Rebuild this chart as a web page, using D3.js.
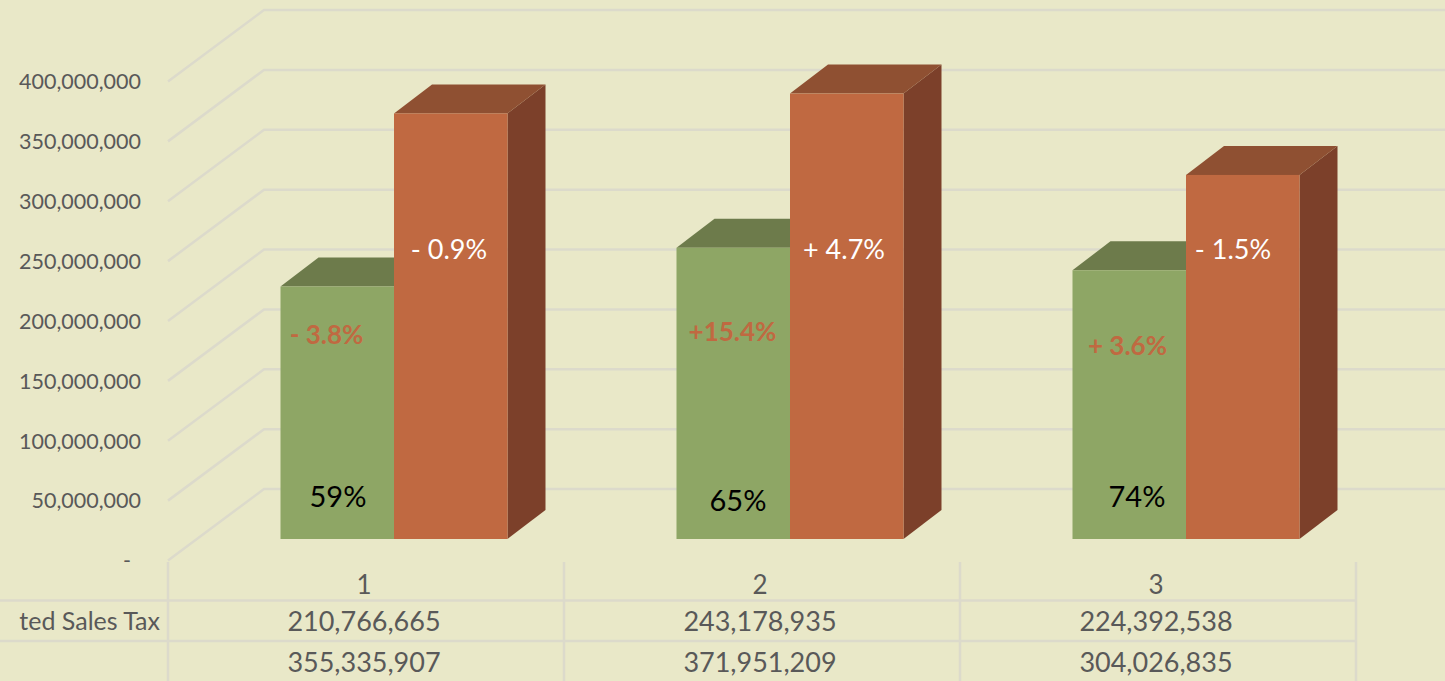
<!DOCTYPE html>
<html><head><meta charset="utf-8">
<script src="https://cdnjs.cloudflare.com/ajax/libs/d3/7.8.5/d3.min.js"></script>
<style>html,body{margin:0;padding:0;background:#e9e8c8;overflow:hidden}svg{display:block}text{font-family:Lato,"Open Sans",sans-serif}</style>
</head><body><div id="c"></div>
<script>
const categories = ["1","2","3"];
const salesTax = [210766665,243178935,224392538];
const otherSeries = [355335907,371951209,304026835];
const tableRowLabels = ["ted Sales Tax",""];
const shareLabels = ["59%","65%","74%"];
const salesChange = ["- 3.8%","+15.4%","+ 3.6%"];
const otherChange = ["- 0.9%","+ 4.7%","- 1.5%"];
const yTicks = [0,50e6,100e6,150e6,200e6,250e6,300e6,350e6,400e6];

const W=1445,H=681;
const svg=d3.select("#c").append("svg").attr("width",W).attr("height",H);
svg.append("rect").attr("width",W).attr("height",H).attr("fill","#e9e8c8");

const left=168,right=1356,y0=560.5,yTop=81.5;
const wallDx=96,wallDy=71.5;
const y=d3.scaleLinear().domain([0,400e6]).range([y0,yTop]);
const x=d3.scaleBand().domain(categories).range([left,right]);
const grid="#dcdacb", tc="#595959";

// walls / gridlines
const g=svg.append("g").attr("fill","none").attr("stroke",grid).attr("stroke-width",2.5);
g.selectAll("path").data(yTicks).join("path")
 .attr("d",t=>d3.line()([[left,y(t)],[left+wallDx,y(t)-wallDy],[W,y(t)-wallDy]]));

// y axis
const axis=d3.axisLeft(y).tickValues(yTicks).tickSize(0).tickPadding(0)
  .tickFormat(t=>t===0?"-":d3.format(",")(t));
const ax=svg.append("g").attr("transform",`translate(141,0)`).call(axis);
ax.select(".domain").remove();
ax.selectAll("text").attr("font-size",21.5).attr("fill",tc).attr("font-family","Lato").attr("dy","0.34em");
ax.selectAll(".tick").filter(t=>t===0).select("text").attr("dx",-10);

// bars
const barW=113.5, depthDx=38, depthDy=29, floorDx=28, floorDy=21.5;
const pal=[{f:"#8ea665",t:"#6d7b4b",s:"#5f6c40"},{f:"#c06941",t:"#8f5032",s:"#7c402a"}];
const series=[salesTax,otherSeries];
const bars=svg.append("g");
categories.forEach((c,i)=>{
  const cx=x(c)+x.bandwidth()/2+floorDx;
  series.forEach((vals,k)=>{
    const xl=cx-barW+k*barW, xr=xl+barW, yb=y(0)-floorDy, yt=y(vals[i])-floorDy;
    const p=pal[k], G=bars.append("g");
    G.append("path").attr("fill",p.s).attr("d",d3.line()([[xr,yt],[xr+depthDx,yt-depthDy],[xr+depthDx,yb-depthDy],[xr,yb]])+"Z");
    G.append("path").attr("fill",p.t).attr("d",d3.line()([[xl,yt],[xl+depthDx,yt-depthDy],[xr+depthDx,yt-depthDy],[xr,yt]])+"Z");
    G.append("rect").attr("x",xl).attr("y",yt).attr("width",barW).attr("height",yb-yt).attr("fill",p.f);
  });
});

// in-bar labels
const label=(arr,px,py,size,fill,weight)=>svg.append("g").selectAll("text").data(arr).join("text")
  .attr("x",(d,i)=>px[i]).attr("y",(d,i)=>py[i]).attr("text-anchor","middle")
  .attr("dominant-baseline","central").attr("font-size",size).attr("fill",fill).attr("font-weight",weight).text(d=>d);
label(shareLabels,[338,738,1137],[495,499,495],29,"#000",400);
label(salesChange,[326.5,732.5,1127.5],[334,331,345],26,"#c06941",700);
label(otherChange,[449,844,1233],[248,248,248],27,"#fff",400);

// data table
const t=svg.append("g").attr("stroke",grid).attr("stroke-width",2.5);
t.selectAll(".v").data([...categories.map(c=>x(c)),right]).join("line").attr("class","v")
 .attr("x1",d=>d).attr("x2",d=>d).attr("y1",562).attr("y2",H);
t.selectAll(".h").data([600.5,641]).join("line").attr("class","h")
 .attr("x1",0).attr("x2",right).attr("y1",d=>d).attr("y2",d=>d);

const cols=x.bandwidth()/2;
svg.append("g").selectAll("text").data(categories).join("text")
 .attr("x",c=>x(c)+cols-2).attr("y",584).attr("text-anchor","middle").attr("dominant-baseline","central")
 .attr("font-size",26).attr("fill",tc).text(d=>d);
[salesTax,otherSeries].forEach((vals,r)=>{
  const ry=[620,661][r];
  svg.append("g").selectAll("text").data(vals).join("text")
   .attr("x",(d,i)=>x(categories[i])+cols-2).attr("y",ry).attr("text-anchor","middle").attr("dominant-baseline","central")
   .attr("font-size",27).attr("fill",tc).text(d=>d3.format(",")(d));
  svg.append("text").attr("x",160).attr("y",ry).attr("text-anchor","end").attr("dominant-baseline","central")
   .attr("font-size",25).attr("fill",tc).text(tableRowLabels[r]);
});
</script></body></html>
